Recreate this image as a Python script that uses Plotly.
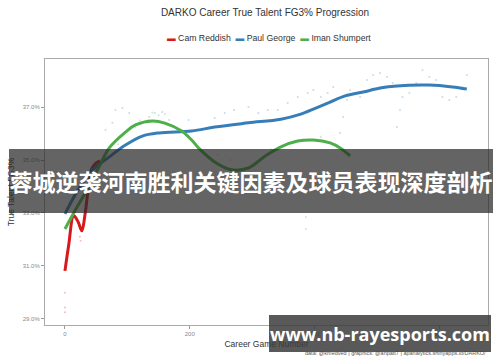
import plotly.graph_objects as go

# ---- data ----
reddish_x = [0, 6, 14, 21, 27, 32, 37, 41, 48, 56]
reddish_y = [30.80, 31.78, 32.89, 32.66, 32.32, 32.92, 33.87, 34.55, 34.85, 34.97]

george_x = [0, 21, 44, 71, 97, 124, 151, 203, 240, 294, 346, 378, 402, 425, 449, 478, 505, 532, 584, 621, 644]
george_y = [32.96, 33.87, 34.62, 35.12, 35.57, 35.91, 36.03, 36.10, 36.25, 36.41, 36.55, 36.74, 36.97,
            37.20, 37.43, 37.58, 37.73, 37.81, 37.84, 37.77, 37.69]

shumpert_x = [0, 16, 37, 56, 71, 97, 113, 140, 160, 187, 203, 214, 240, 267, 294, 319, 346, 373, 398, 425, 441, 457]
shumpert_y = [32.39, 33.08, 33.94, 34.81, 35.46, 36.06, 36.33, 36.48, 36.40, 36.10, 35.76, 35.46, 34.93,
              34.63, 34.70, 35.12, 35.50, 35.72, 35.76, 35.65, 35.46, 35.16]

# raw game-level values (faint dots)
george_raw_x = [65, 76, 81, 92, 103, 113, 124, 135, 144, 156, 167, 176, 187, 198,
                240, 256, 271, 294, 310, 325, 341, 357, 373, 389, 398, 410, 421, 430,
                441, 446, 452, 457, 473, 484, 494, 505, 516, 525, 532, 537, 541, 552,
                563, 573, 584, 595, 605, 616, 627, 637, 644]
george_raw_y = [36.14, 36.41, 36.90, 36.97, 36.78, 36.25, 36.41, 36.63, 36.78, 36.82, 36.52, 36.25, 36.14, 36.52,
                36.59, 36.78, 36.90, 37.01, 36.78, 36.90, 36.90, 37.16, 37.39, 37.54, 37.66, 37.39, 37.54, 37.77,
                36.03, 36.63, 37.28, 37.66, 37.39, 38.03, 38.22, 38.30, 38.15, 37.92, 36.25, 36.90, 37.39, 37.54,
                37.92, 38.41, 38.15, 38.03, 37.39, 37.28, 37.39, 37.77, 38.22]
shumpert_raw_x = [60, 85, 120, 140, 150, 160, 245, 265, 330, 386, 386, 410]
shumpert_raw_y = [35.0, 35.6, 36.5, 36.8, 36.7, 36.75, 35.2, 35.0, 35.4, 32.84, 32.39, 35.87]
reddish_raw_x = [0, 0, 0, 10, 24, 25]
reddish_raw_y = [29.97, 29.41, 29.23, 32.54, 32.09, 31.94]

y_ticks = [29, 31, 33, 35, 37]
x_ticks = [0, 200, 400, 600]

RED, BLUE, GREEN = "#d7191c", "#377eb8", "#4daf4a"
FONT = "Liberation Sans, Arial, sans-serif"

fig = go.Figure()
for rx, ry, c in [(george_raw_x, george_raw_y, BLUE), (shumpert_raw_x, shumpert_raw_y, GREEN),
                  (reddish_raw_x, reddish_raw_y, RED)]:
    fig.add_trace(go.Scatter(x=rx, y=ry, mode="markers", showlegend=False,
                             marker=dict(size=2, color=c, opacity=0.28)))

for name, xs, ys, c in [("Cam Reddish", reddish_x, reddish_y, RED),
                        ("Paul George", george_x, george_y, BLUE),
                        ("Iman Shumpert", shumpert_x, shumpert_y, GREEN)]:
    fig.add_trace(go.Scatter(x=xs, y=ys, mode="lines", name=name, showlegend=False,
                             line=dict(color=c, width=3, shape="spline", smoothing=1.0)))

fig.update_layout(
    width=500, height=362,
    margin=dict(l=42, r=11, t=59, b=37),
    paper_bgcolor="white", plot_bgcolor="white",
    font=dict(family=FONT, color="#333"),
    title=dict(text="DARKO Career True Talent FG3% Progression", x=0.53, xanchor="center",
               y=1 - 12.5 / 362, yanchor="middle", font=dict(size=10, color="#333", family=FONT)),
    xaxis=dict(range=[-32, 678], tickvals=x_ticks, ticktext=[str(v) for v in x_ticks],
               showgrid=False, zeroline=False, showline=True, mirror=True, linecolor="#aaa", linewidth=1,
               ticks="outside", ticklen=3, tickcolor="#999", tickfont=dict(size=6, color="#888"),
               title=dict(text="Career Game Number", font=dict(size=8.5, color="#333"), standoff=4)),
    yaxis=dict(range=[28.75, 38.83], tickvals=y_ticks, ticktext=[f"{v:.1f}%" for v in y_ticks],
               showgrid=False, zeroline=False, showline=True, mirror=True, linecolor="#aaa", linewidth=1,
               ticks="outside", ticklen=3, tickcolor="#999", tickfont=dict(size=6, color="#888"),
               title=dict(text="True Talent FG3%", font=dict(size=8.5, color="#333"), standoff=6)),
)

legend_txt = (f'<span style="color:{RED}">▬</span> Cam Reddish  '
              f'<span style="color:{BLUE}">▬</span> Paul George  '
              f'<span style="color:{GREEN}">▬</span> Iman Shumpert')
fig.add_annotation(text=legend_txt, xref="paper", yref="paper", x=0.5067, y=1.080,
                   xanchor="center", yanchor="middle", showarrow=False,
                   font=dict(size=8.7, color="#333", family=FONT))

fig.add_annotation(text="data: @kmedved | graphics: @anpatt7 | apanalytics.shinyapps.io/DARKO/",
                   xref="paper", yref="paper", x=1.0, y=-0.105, xanchor="right", yanchor="middle",
                   showarrow=False, font=dict(size=5.5, color="#555", family=FONT))

# overlay banner
fig.add_annotation(text="<b>蓉城逆袭河南胜利关键因素及球员表现深度剖析</b>",
                   xref="paper", yref="paper", x=(250 - 42) / 447, y=(325 - 181) / 266,
                   xanchor="center", yanchor="middle", showarrow=False,
                   width=484, height=64, bgcolor="rgba(40,40,40,0.72)", borderpad=0, borderwidth=0,
                   font=dict(size=23, color="white", family="Noto Sans CJK SC"))
# watermark box
fig.add_annotation(text="<b>www.nb-rayesports.com</b>",
                   xref="paper", yref="paper", x=(380 - 42) / 447, y=(325 - 333.5) / 266,
                   xanchor="center", yanchor="middle", showarrow=False,
                   width=222, height=37, bgcolor="rgba(60,60,60,0.85)", borderpad=0, borderwidth=0,
                   font=dict(size=18, color="white", family="Open Sans"))

fig.write_html("out.html")
